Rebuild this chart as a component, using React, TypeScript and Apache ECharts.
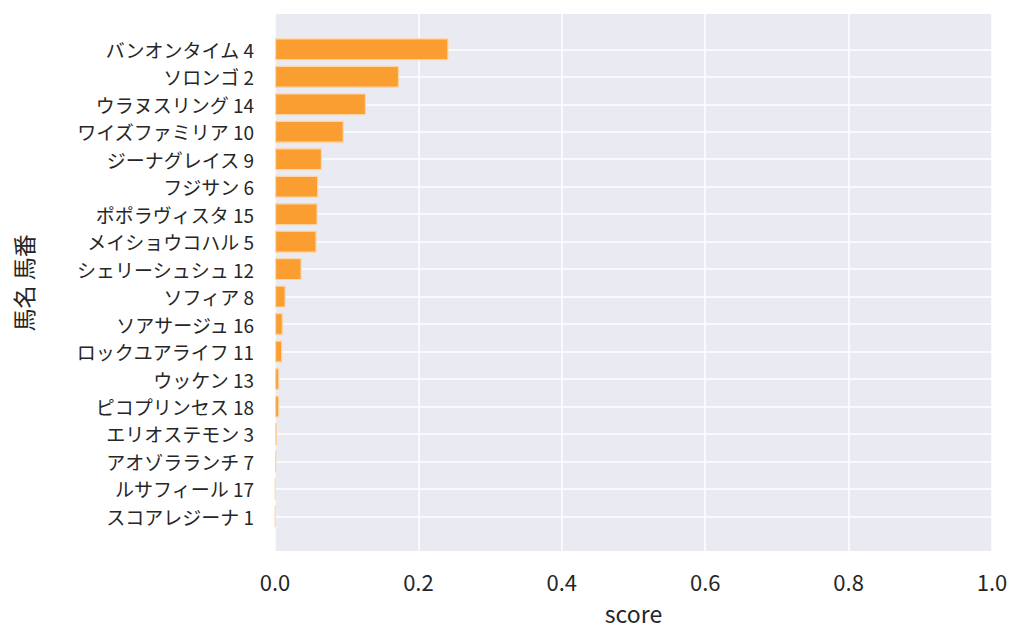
import React, { useEffect, useRef } from "react";
import * as echarts from "echarts";

const horseNames = [
  "バンオンタイム 4",
  "ソロンゴ 2",
  "ウラヌスリング 14",
  "ワイズファミリア 10",
  "ジーナグレイス 9",
  "フジサン 6",
  "ポポラヴィスタ 15",
  "メイショウコハル 5",
  "シェリーシュシュ 12",
  "ソフィア 8",
  "ソアサージュ 16",
  "ロックユアライフ 11",
  "ウッケン 13",
  "ピコプリンセス 18",
  "エリオステモン 3",
  "アオゾラランチ 7",
  "ルサフィール 17",
  "スコアレジーナ 1",
];

const scores = [
  0.242, 0.173, 0.127, 0.096, 0.0655, 0.0604, 0.0595, 0.058, 0.0372, 0.0149,
  0.011, 0.0102, 0.006, 0.006, 0.0028, 0.0018, 0.0005, 0.0003,
];

const xTicks = [0, 0.2, 0.4, 0.6, 0.8, 1.0];

const FONT = "'Noto Sans CJK JP', 'Noto Sans', sans-serif";

export default function App() {
  const ref = useRef<HTMLDivElement>(null);
  useEffect(() => {
    if (!ref.current) return;
    const chart = echarts.init(ref.current, undefined, { renderer: "svg" });
    chart.setOption({
      animation: false,
      backgroundColor: "#ffffff",
      textStyle: { fontFamily: FONT },
      grid: [
        {
          left: 275,
          right: 32,
          top: 14,
          height: 537,
          show: true,
          backgroundColor: "#EAEAF2",
          borderWidth: 0,
        },
        {
          left: 275,
          right: 32,
          top: 35.6,
          height: 494.5,
        },
      ],
      xAxis: [
        {
          type: "value",
          gridIndex: 0,
          min: xTicks[0],
          max: xTicks[xTicks.length - 1],
          interval: 0.2,
          axisLine: { show: false },
          axisTick: { show: false },
          splitLine: { show: true, lineStyle: { color: "#ffffff", width: 1.5 } },
          axisLabel: {
            fontSize: 22,
            lineHeight: 24,
            color: "#262626",
            margin: 18,
            fontFamily: FONT,
            formatter: (v: number) => v.toFixed(1),
          },
          name: "score",
          nameLocation: "middle",
          nameGap: 49,
          nameTextStyle: { fontSize: 23, lineHeight: 25, color: "#262626", fontFamily: FONT },
        },
        {
          type: "value",
          gridIndex: 1,
          min: 0,
          max: 1,
          show: false,
        },
      ],
      yAxis: [
        {
          type: "value",
          gridIndex: 0,
          show: false,
          splitLine: { show: false },
        },
        {
          type: "category",
          gridIndex: 1,
          data: horseNames,
          inverse: true,
          axisLine: { show: false },
          axisTick: {
            show: true,
            alignWithLabel: true,
            inside: true,
            length: 717,
            lineStyle: { color: "#ffffff", width: 1.5 },
          },
          splitLine: { show: false },
          axisLabel: {
            fontSize: 19,
            lineHeight: 22,
            color: "#262626",
            margin: 21,
            fontFamily: FONT,
            interval: 0,
          },
          name: "馬名 馬番",
          nameLocation: "middle",
          nameGap: 240,
          nameTextStyle: { fontSize: 23, lineHeight: 25, color: "#262626", fontFamily: FONT },
        },
      ],
      series: [
        {
          type: "bar",
          xAxisIndex: 1,
          yAxisIndex: 1,
          data: scores,
          barWidth: "80%",
          itemStyle: {
            color: "#FA9E32",
            borderColor: "#FFD6A3",
            borderWidth: 1.2,
          },
        },
      ],
    });
    return () => chart.dispose();
  }, []);
  return (
    <div
      ref={ref}
      style={{ position: "fixed", left: 0, top: 0, width: 1024, height: 641 }}
    />
  );
}
